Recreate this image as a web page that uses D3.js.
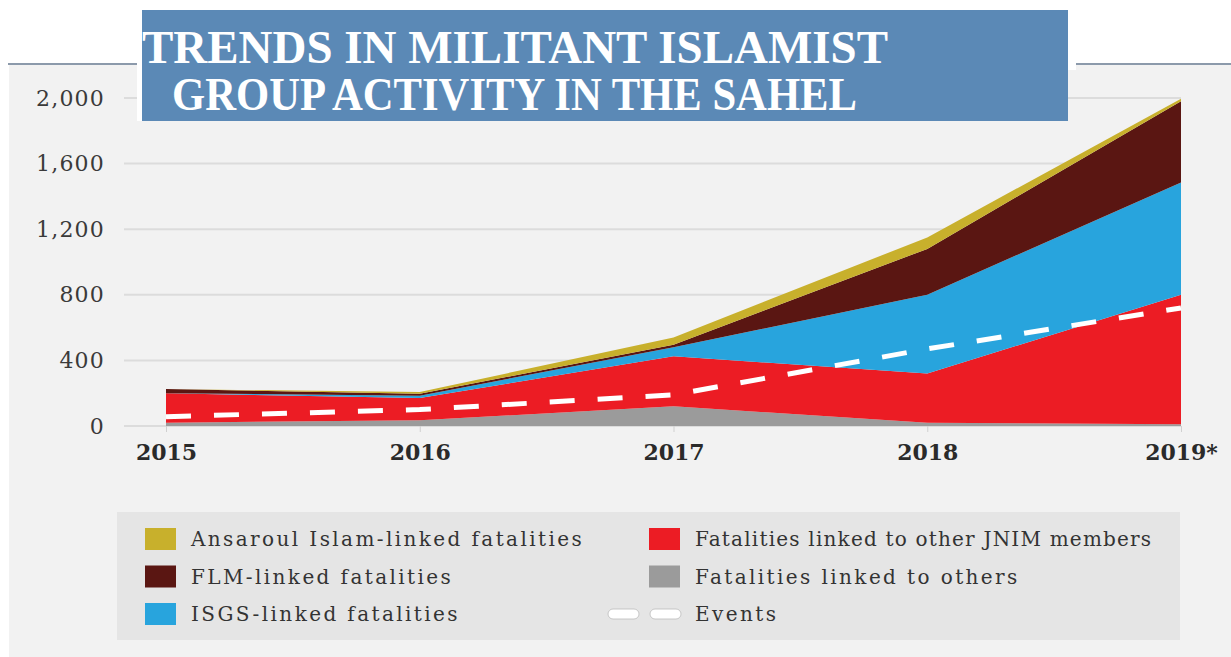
<!DOCTYPE html>
<html lang="en">
<head>
    <meta charset="UTF-8">
    <title>Trends in militant Islamist group activity in the Sahel</title>
    <script src="https://cdn.jsdelivr.net/npm/d3@7"></script>
    <style>
        body { margin: 0; background: #fff; }
        text { font-family: 'DejaVu Serif', serif; }
    </style>
</head>
<body>
<script>
    const [width, height] = [1231, 657]

    // data
    const years = ['2015', '2016', '2017', '2018', '2019*']
    const others = [20, 35, 120, 20, 10]
    const jnimOther = [180, 135, 305, 300, 790]
    const isgs = [0, 15, 55, 480, 685]
    const flm = [25, 12, 15, 280, 495]
    const ansaroul = [0, 10, 45, 70, 15]
    const events = [57, 100, 190, 470, 720]
    const yTicks = [0, 400, 800, 1200, 1600, 2000]

    const seriesKeys = ['others', 'jnimOther', 'isgs', 'flm', 'ansaroul']
    const colors = {
        others: '#9b9b9b',
        jnimOther: '#ec1c24',
        isgs: '#28a4dd',
        flm: '#5a1612',
        ansaroul: '#c8b02c'
    }
    const labels = {
        ansaroul: 'Ansaroul Islam-linked fatalities',
        flm: 'FLM-linked fatalities',
        isgs: 'ISGS-linked fatalities',
        jnimOther: 'Fatalities linked to other JNIM members',
        others: 'Fatalities linked to others'
    }

    const rows = years.map((y, i) => ({
        year: y,
        others: others[i],
        jnimOther: jnimOther[i],
        isgs: isgs[i],
        flm: flm[i],
        ansaroul: ansaroul[i]
    }))

    const svg = d3.select('body')
        .append('svg')
            .attr('width', width)
            .attr('height', height)

    // panel background + top rule
    svg.append('rect').attr('x', 9).attr('y', 64).attr('width', width - 9).attr('height', height - 64)
        .attr('fill', '#f2f2f2')
    svg.append('line').attr('x1', 8).attr('x2', width).attr('y1', 64).attr('y2', 64)
        .attr('stroke', '#8c9aab').attr('stroke-width', 2)

    const x = d3.scalePoint().domain(years).range([166, 1181])
    const y = d3.scaleLinear().domain([0, 2000]).range([426, 98])

    // grid lines
    svg.append('g').selectAll('line').data(yTicks).join('line')
        .attr('x1', 124).attr('x2', 1181)
        .attr('y1', d => y(d)).attr('y2', d => y(d))
        .attr('stroke', '#dcdcdc').attr('stroke-width', 2)

    // y axis labels
    const yAxis = d3.axisLeft(y).tickValues(yTicks).tickFormat(d3.format(',')).tickSize(0).tickPadding(19)
    svg.append('g').attr('class', 'y-axis').attr('transform', 'translate(124,0)').call(yAxis)
        .call(g => g.select('.domain').remove())
        .selectAll('text')
            .attr('font-family', 'DejaVu Serif')
            .attr('font-size', 22)
            .attr('letter-spacing', 1.2)
            .attr('fill', '#3a3a3a')

    // stacked areas
    const stack = d3.stack().keys(seriesKeys)
    const area = d3.area()
        .x(d => x(d.data.year))
        .y0(d => y(d[0]))
        .y1(d => y(d[1]))
    svg.append('g').selectAll('path').data(stack(rows)).join('path')
        .attr('d', area)
        .attr('fill', d => colors[d.key])

    // events line
    const line = d3.line().x((d, i) => x(years[i])).y(d => y(d))
    svg.append('path').datum(events)
        .attr('d', line)
        .attr('fill', 'none')
        .attr('stroke', '#fff')
        .attr('stroke-width', 5)
        .attr('stroke-dasharray', '25,23')

    // x axis
    const xAxis = d3.axisBottom(x).tickSize(6).tickPadding(12)
    svg.append('g').attr('class', 'x-axis').attr('transform', 'translate(0,426)').call(xAxis)
        .call(g => g.select('.domain').remove())
        .call(g => g.selectAll('.tick line').attr('stroke', '#d0d0d0'))
        .selectAll('text')
            .attr('font-family', 'DejaVu Serif')
            .attr('font-weight', 'bold')
            .attr('font-size', 22)
            .attr('fill', '#2a2a2a')

    // title box
    svg.append('rect').attr('x', 137).attr('y', 62).attr('width', 10).attr('height', 59).attr('fill', '#fff')
    svg.append('rect').attr('x', 1060).attr('y', 62).attr('width', 16).attr('height', 8).attr('fill', '#fff')
    svg.append('rect').attr('x', 142).attr('y', 10).attr('width', 926).attr('height', 111).attr('fill', '#5b89b6')
    const title = svg.append('g').attr('fill', '#fff')
        .attr('font-weight', 'bold').attr('font-size', 47)
    title.append('text').attr('x', 142).attr('y', 63)
        .attr('textLength', 746).attr('lengthAdjust', 'spacingAndGlyphs')
        .style('font-family', 'Liberation Serif')
        .text('TRENDS IN MILITANT ISLAMIST')
    title.append('text').attr('x', 172).attr('y', 110)
        .attr('textLength', 685).attr('lengthAdjust', 'spacingAndGlyphs')
        .style('font-family', 'Liberation Serif')
        .text('GROUP ACTIVITY IN THE SAHEL')

    // legend
    const legend = svg.append('g')
    legend.append('rect').attr('x', 117).attr('y', 512).attr('width', 1063).attr('height', 128)
        .attr('fill', '#e5e5e5')
    const legendItems = [
        {key: 'ansaroul', col: 0, row: 0},
        {key: 'flm', col: 0, row: 1},
        {key: 'isgs', col: 0, row: 2},
        {key: 'jnimOther', col: 1, row: 0},
        {key: 'others', col: 1, row: 1}
    ]
    const colX = [145, 649]
    const rowY = r => 539 + r * 37.5
    legend.selectAll('rect.sw').data(legendItems).join('rect')
        .attr('class', 'sw')
        .attr('x', d => colX[d.col]).attr('y', d => rowY(d.row) - 11)
        .attr('width', 31).attr('height', 22)
        .attr('fill', d => colors[d.key])
    legend.selectAll('text.lb').data(legendItems).join('text')
        .attr('class', 'lb')
        .attr('x', d => colX[d.col] + 46).attr('y', d => rowY(d.row))
        .attr('dy', '0.35em')
        .attr('font-size', 20)
        .attr('letter-spacing', d => d.key === 'jnimOther' ? 1.2 : 2.4)
        .attr('fill', '#333')
        .text(d => labels[d.key])
    // events legend symbol
    legend.selectAll('rect.ev').data([608, 650]).join('rect')
        .attr('class', 'ev')
        .attr('x', d => d).attr('y', rowY(2) - 5)
        .attr('width', 31).attr('height', 10).attr('rx', 5)
        .attr('fill', '#fff').attr('stroke', '#bbb').attr('stroke-width', 0.8)
    legend.append('text').attr('x', 695).attr('y', rowY(2)).attr('dy', '0.35em')
        .attr('font-size', 20).attr('letter-spacing', 2.4).attr('fill', '#333').text('Events')
</script>
</body>
</html>
